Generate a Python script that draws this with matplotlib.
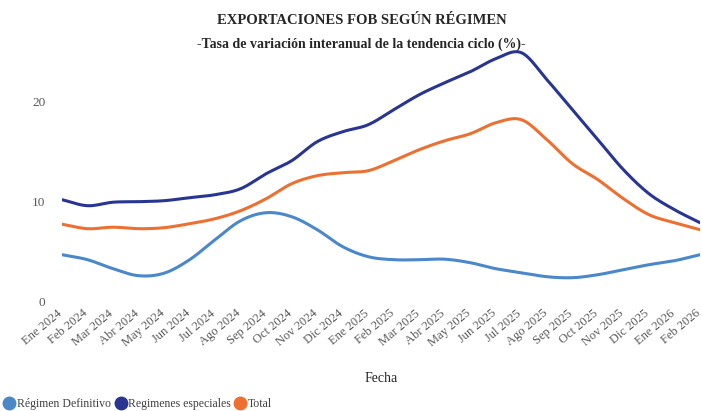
import matplotlib
matplotlib.use("Agg")
import matplotlib.pyplot as plt
import matplotlib.transforms as mtransforms
from matplotlib.lines import Line2D
import numpy as np

plt.rcParams['font.family'] = ['Liberation Serif', 'DejaVu Serif']

# meses del eje x
meses = ['Ene 2024', 'Feb 2024', 'Mar 2024', 'Abr 2024', 'May 2024', 'Jun 2024',
         'Jul 2024', 'Ago 2024', 'Sep 2024', 'Oct 2024', 'Nov 2024', 'Dic 2024',
         'Ene 2025', 'Feb 2025', 'Mar 2025', 'Abr 2025', 'May 2025', 'Jun 2025',
         'Jul 2025', 'Ago 2025', 'Sep 2025', 'Oct 2025', 'Nov 2025', 'Dic 2025',
         'Ene 2026', 'Feb 2026']

definitivo = [4.7, 4.2, 3.3, 2.6, 2.85, 4.2, 6.2, 8.1, 8.9, 8.5, 7.2, 5.5,
              4.5, 4.2, 4.2, 4.25, 3.9, 3.3, 2.9, 2.5, 2.4, 2.7, 3.2, 3.7,
              4.1, 4.7]
especiales = [10.2, 9.6, 9.95, 10.0, 10.1, 10.4, 10.7, 11.3, 12.8, 14.1, 16.0, 17.0,
              17.7, 19.2, 20.7, 21.9, 23.0, 24.3, 24.9, 22.2, 19.2, 16.2, 13.2, 10.8,
              9.2, 7.9]
total = [7.75, 7.3, 7.45, 7.3, 7.4, 7.8, 8.3, 9.1, 10.3, 11.8, 12.6, 12.9,
         13.1, 14.1, 15.2, 16.1, 16.8, 17.9, 18.2, 16.2, 13.8, 12.2, 10.3, 8.7,
         7.9, 7.2]

c_def = '#4a88c9'
c_esp = '#283593'
c_tot = '#ed7031'
gris = '#595959'


def suave(y, n=20):
    # linea suavizada tipo Excel (Catmull-Rom) solo para el trazo
    y = np.asarray(y, float)
    m = np.gradient(y)
    xs, ys = [], []
    for i in range(len(y) - 1):
        t = np.linspace(0, 1, n, endpoint=False)
        h00 = 2 * t**3 - 3 * t**2 + 1
        h10 = t**3 - 2 * t**2 + t
        h01 = -2 * t**3 + 3 * t**2
        h11 = t**3 - t**2
        xs.extend(i + t)
        ys.extend(h00 * y[i] + h10 * m[i] + h01 * y[i + 1] + h11 * m[i + 1])
    xs.append(len(y) - 1)
    ys.append(y[-1])
    return xs, ys


fig = plt.figure(figsize=(7.02, 4.11), dpi=100)
ax = fig.add_axes([62 / 702, 1 - 301.7 / 411, 638 / 702, 260 / 411])

x = list(range(len(meses)))
for serie, c in ((definitivo, c_def), (especiales, c_esp), (total, c_tot)):
    xs, ys = suave(serie)
    ax.plot(xs, ys, color=c, lw=2.2, solid_capstyle='round')

ax.set_xlim(0, len(meses) - 1)
ax.set_ylim(0, 26)
for s in ax.spines.values():
    s.set_visible(False)
ax.set_yticks([0, 10, 20])
ax.set_xticks(x)
ax.set_xticklabels(meses, rotation=40, ha='right', rotation_mode='anchor',
                   fontsize=9, color=gris)
ax.tick_params(axis='both', length=0, colors=gris)
ax.tick_params(axis='y', pad=12, labelsize=9.5)
ax.tick_params(axis='x', pad=4)
desplaza = mtransforms.ScaledTranslation(-5 / 100, 0, fig.dpi_scale_trans)
for lab in ax.get_xticklabels():
    lab.set_transform(lab.get_transform() + desplaza)

fig.text(0.515, 1 - 20 / 411, 'EXPORTACIONES FOB SEGÚN RÉGIMEN', ha='center', va='center',
         fontsize=10.5, fontweight='bold', color='#262626')
fig.text(0.515, 1 - 44 / 411, '-Tasa de variación interanual de la tendencia ciclo (%)-',
         ha='center', va='center', fontsize=10, fontweight='bold', color='#262626')
fig.text(381 / 702, 1 - 378 / 411, 'Fecha', ha='center', va='center', fontsize=10,
         color='#262626')

handles = [Line2D([], [], ls='none', marker='o', ms=9, color=c) for c in (c_def, c_esp, c_tot)]
fig.legend(handles, ['Régimen Definitivo', 'Regimenes especiales', 'Total'],
           loc='center left', bbox_to_anchor=(0.005, 1 - 404 / 411), ncol=3, frameon=False,
           handletextpad=0.25, columnspacing=0.4, handlelength=0.8,
           prop={'size': 8.5}, labelcolor='#404040', borderaxespad=0, borderpad=0.1)

fig.savefig('out.png', dpi=100)
